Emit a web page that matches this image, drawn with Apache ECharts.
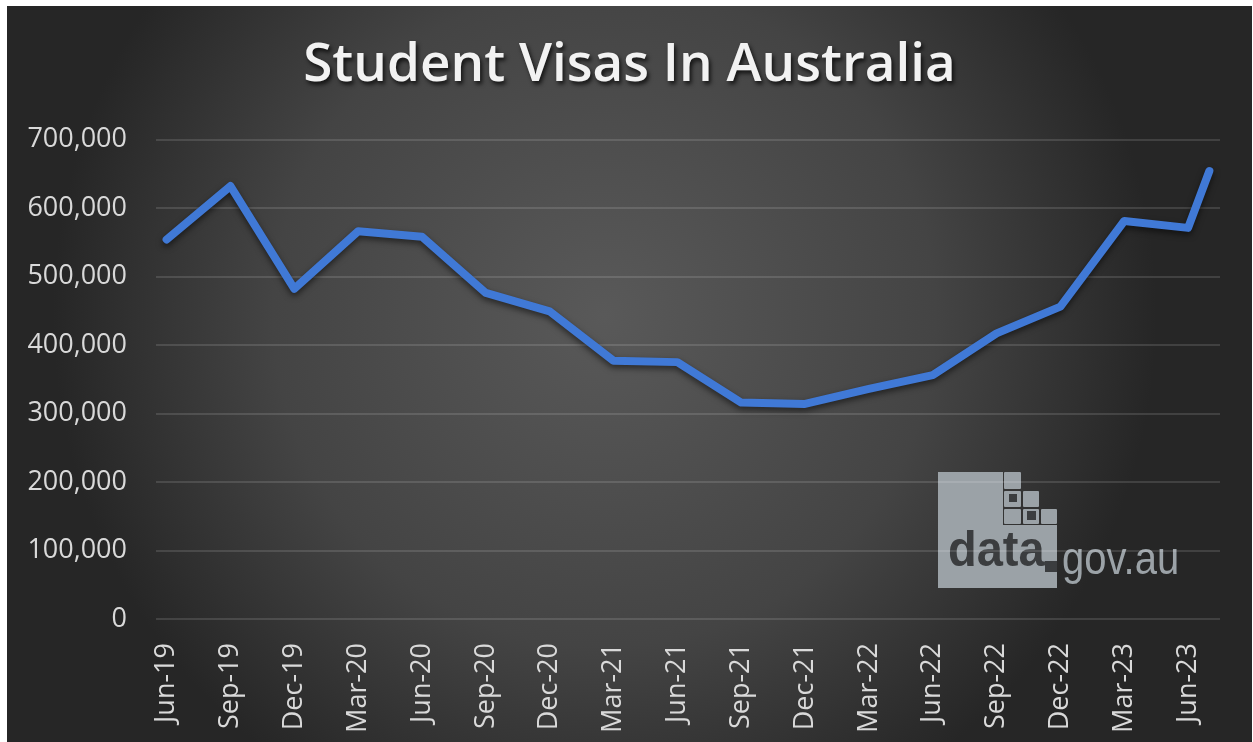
<!DOCTYPE html>
<html>
<head>
<meta charset="utf-8">
<script src="https://cdn.jsdelivr.net/npm/echarts@6/dist/echarts.min.js"></script>
<style>
  html, body { margin: 0; padding: 0; background: #ffffff; }
  #chart { position: absolute; left: 7px; top: 6px; width: 1245px; height: 736px; }
</style>
</head>
<body>
<div id="chart"></div>
<script>
// Quarterly observations (plus the latest month)
const dates = ['Jun-19','Sep-19','Dec-19','Mar-20','Jun-20','Sep-20','Dec-20','Mar-21','Jun-21',
               'Sep-21','Dec-21','Mar-22','Jun-22','Sep-22','Dec-22','Mar-23','Jun-23','Jul-23'];
const visas = [554000, 632000, 482000, 566000, 558000, 476000, 449000, 377000, 375000,
               316000, 314000, 336000, 356000, 417000, 456000, 581000, 571000, 654000];
const yTicks = [0, 100000, 200000, 300000, 400000, 500000, 600000, 700000];

// Monthly date axis Jun-19 .. Jul-23 (labels shown every 3 months)
const monthNames = ['Jan','Feb','Mar','Apr','May','Jun','Jul','Aug','Sep','Oct','Nov','Dec'];
const months = [];
for (let y = 2019, m = 5; !(y === 2023 && m === 7); ) {
  months.push(monthNames[m] + '-' + String(y).slice(2));
  m++; if (m === 12) { m = 0; y++; }
}

const chart = echarts.init(document.getElementById('chart'));
const logoLight = '#9ba2a7';
const logoDark = '#3b3d3f';
chart.setOption({
  backgroundColor: {
    type: 'radial', x: 0.48, y: 0.42, r: 0.75,
    colorStops: [
      { offset: 0, color: '#595959' },
      { offset: 0.6, color: '#444444' },
      { offset: 1, color: '#262626' }
    ]
  },
  title: {
    text: 'Student Visas In Australia',
    left: 'center',
    top: 28,
    textStyle: {
      fontFamily: 'Open Sans',
      fontWeight: 600,
      fontSize: 53,
      color: '#f2f2f2',
      textShadowColor: 'rgba(0,0,0,0.75)',
      textShadowBlur: 4,
      textShadowOffsetX: 2,
      textShadowOffsetY: 3
    }
  },
  grid: { left: 149, right: 32, top: 133.5, bottom: 123, containLabel: false },
  xAxis: {
    type: 'category',
    data: months,
    boundaryGap: true,
    axisLine: { show: false },
    axisTick: { show: false },
    axisLabel: {
      interval: 2,
      rotate: 90,
      margin: 24,
      color: '#d9d9d9',
      fontFamily: 'Open Sans',
      fontSize: 27
    },
    splitLine: { show: false }
  },
  yAxis: {
    type: 'value',
    min: yTicks[0],
    max: yTicks[yTicks.length - 1],
    interval: 100000,
    axisLine: { show: false },
    axisTick: { show: false },
    axisLabel: {
      margin: 29,
      color: '#d9d9d9',
      fontFamily: 'Open Sans',
      fontSize: 27,
      formatter: v => v.toLocaleString('en-US')
    },
    splitLine: { lineStyle: { color: 'rgba(255,255,255,0.17)', width: 1.5 } }
  },
  series: [{
    type: 'line',
    data: dates.map((d, i) => [d, visas[i]]),
    showSymbol: false,
    symbol: 'none',
    lineStyle: {
      color: '#4079d6',
      width: 8,
      cap: 'round',
      join: 'round',
      shadowColor: 'rgba(0,0,0,0.55)',
      shadowBlur: 6,
      shadowOffsetY: 3
    },
    silent: true,
    animation: false
  }],
  graphic: [
    { type: 'rect', shape: { x: 931, y: 466, width: 65, height: 116 }, style: { fill: logoLight } },
    { type: 'rect', shape: { x: 931, y: 519, width: 119, height: 63 }, style: { fill: logoLight } },
    { type: 'rect', shape: { x: 997, y: 466, width: 17, height: 17, r: 1 }, style: { fill: logoLight } },
    { type: 'rect', shape: { x: 997, y: 485, width: 17, height: 16, r: 1 }, style: { fill: logoLight } },
    { type: 'rect', shape: { x: 1002, y: 488, width: 8, height: 8 }, style: { fill: logoDark } },
    { type: 'rect', shape: { x: 1016, y: 485, width: 16, height: 16, r: 1 }, style: { fill: logoLight } },
    { type: 'rect', shape: { x: 997, y: 503, width: 17, height: 15, r: 1 }, style: { fill: logoLight } },
    { type: 'rect', shape: { x: 1016, y: 503, width: 16, height: 15, r: 1 }, style: { fill: logoLight } },
    { type: 'rect', shape: { x: 1020, y: 505, width: 9, height: 9 }, style: { fill: logoDark } },
    { type: 'rect', shape: { x: 1034, y: 503, width: 16, height: 15, r: 1 }, style: { fill: logoLight } },
    { type: 'rect', shape: { x: 1038, y: 555, width: 12, height: 11 }, style: { fill: logoDark } },
    { type: 'text', x: 941, y: 546, scaleX: 0.94,
      style: { text: 'data', fill: logoDark, font: 'bold 50px "Liberation Sans"', align: 'left', verticalAlign: 'middle' } },
    { type: 'text', x: 1055, y: 555, scaleX: 0.87,
      style: { text: 'gov.au', fill: logoLight, font: '46px "Liberation Sans"', align: 'left', verticalAlign: 'middle' } }
  ]
});
</script>
</body>
</html>
